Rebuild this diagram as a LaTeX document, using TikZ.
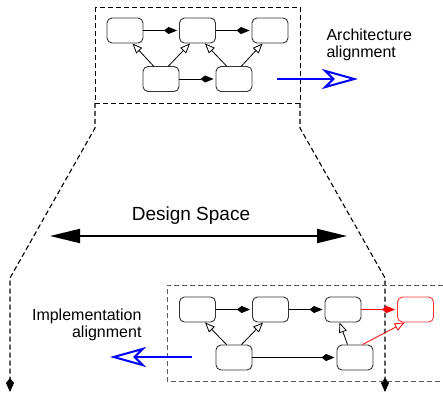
\documentclass[tikz,border=0pt]{standalone}
\usepackage{fontspec}
\setmainfont{Liberation Sans}
\usetikzlibrary{arrows.meta,positioning}

\tikzset{
  block/.style={draw=black!80, rounded corners=5pt, minimum width=36pt, minimum height=25pt, inner sep=0pt, line width=0.9pt},
  flow/.style={-{Kite[length=13pt,width=7pt,inset=4.5pt]}, shorten >=2pt, line width=0.8pt},
  refine/.style={-{Triangle[open,length=10pt,width=8pt]}, line width=0.8pt},
  alignarrow/.style={blue, line width=2pt, -{Stealth[open,length=36pt,width=20pt,inset=10pt]}},
  funnel/.style={dash pattern=on 5pt off 3pt, line width=1.1pt, -{Kite[length=14pt,width=8pt,inset=5pt]}},
  frame/.style={dash pattern=on 5pt off 3pt, line width=0.9pt},
}

\begin{document}
\begin{tikzpicture}[x=1pt,y=-1pt]
    \useasboundingbox (0,0) rectangle (443,395);
    % architecture level
    \node[block] (a1) at (125,30.5) {};
    \node[block] (a2) at (197.5,30.5) {};
    \node[block] (a3) at (270,30.5) {};
    \node[block] (b1) at (161,79) {};
    \node[block] (b2) at (234,79) {};
    \draw[flow] (a1) -- (a2); \draw[flow] (a2) -- (a3); \draw[flow] (b1) -- (b2);
    \draw[refine] (b1.120) -- (a1.-60); \draw[refine] (b1.60) -- (a2.-120);
    \draw[refine] (b2.120) -- (a2.-60); \draw[refine] (b2.60) -- (a3.-120);
    \coordinate (archnw) at (95,7);
    \coordinate (archse) at (300,103);
    \draw[frame] (archnw) rectangle (archse);
    % alignment arrows
    \coordinate (archfrom) at (277,79);
    \coordinate (archto) at (358,79);
    \draw[alignarrow] (archfrom) -- (archto);
    \node[anchor=west, align=left, font=\fontsize{16}{17}\selectfont] (archtext) at (323,45) {Architecture\\alignment};
    % funnel
    \coordinate (lbend) at (95,128); \coordinate (lfoot) at (10,278); \coordinate (lend) at (10,392);
    \coordinate (rbend) at (300,128); \coordinate (rfoot) at (385,278); \coordinate (rend) at (385,392);
    \draw[funnel] (archnw |- archse) -- (lbend) -- (lfoot) -- (lend);
    \draw[funnel] (archse) -- (rbend) -- (rfoot) -- (rend);
    % design space
    \coordinate (dsl) at (50,236); \coordinate (dsr) at (347,236);
    \draw[line width=2pt, {Triangle[length=30pt,width=14pt]}-{Triangle[length=30pt,width=14pt]}] (dsl) -- (dsr);
    \node[font=\fontsize{19}{22}\selectfont] (dstext) at (191,216) {Design Space};
    % implementation level
    \node[block] (c1) at (197.5,309.5) {};
    \node[block] (c2) at (270.5,309.5) {};
    \node[block] (c3) at (343,309.5) {};
    \node[block, draw=red!80] (c4) at (415.5,309.5) {};
    \node[block] (d1) at (234,357.5) {};
    \node[block] (d2) at (355,357.5) {};
    \draw[flow] (c1) -- (c2); \draw[flow] (c2) -- (c3); \draw[flow] (d1) -- (d2);
    \draw[flow, red] (c3) -- (c4);
    \draw[refine] (d1.120) -- (c1.-60); \draw[refine] (d1.60) -- (c2.-120);
    \draw[refine] (d2.120) -- (c3.-105); \draw[refine, red] (d2.60) -- (c4.-130);
    \coordinate (implne) at (443,285); \coordinate (implsw) at (167,381);
    \draw[frame, black!65] (implne) -| (implsw) -- (implsw -| implne);
    \coordinate (implfrom) at (192,357);
    \coordinate (implto) at (110,357);
    \draw[alignarrow] (implfrom) -- (implto);
    \node[anchor=east, align=right, font=\fontsize{16}{17}\selectfont] (impltext) at (145,325) {Implementation\\alignment};
\end{tikzpicture}
\end{document}
